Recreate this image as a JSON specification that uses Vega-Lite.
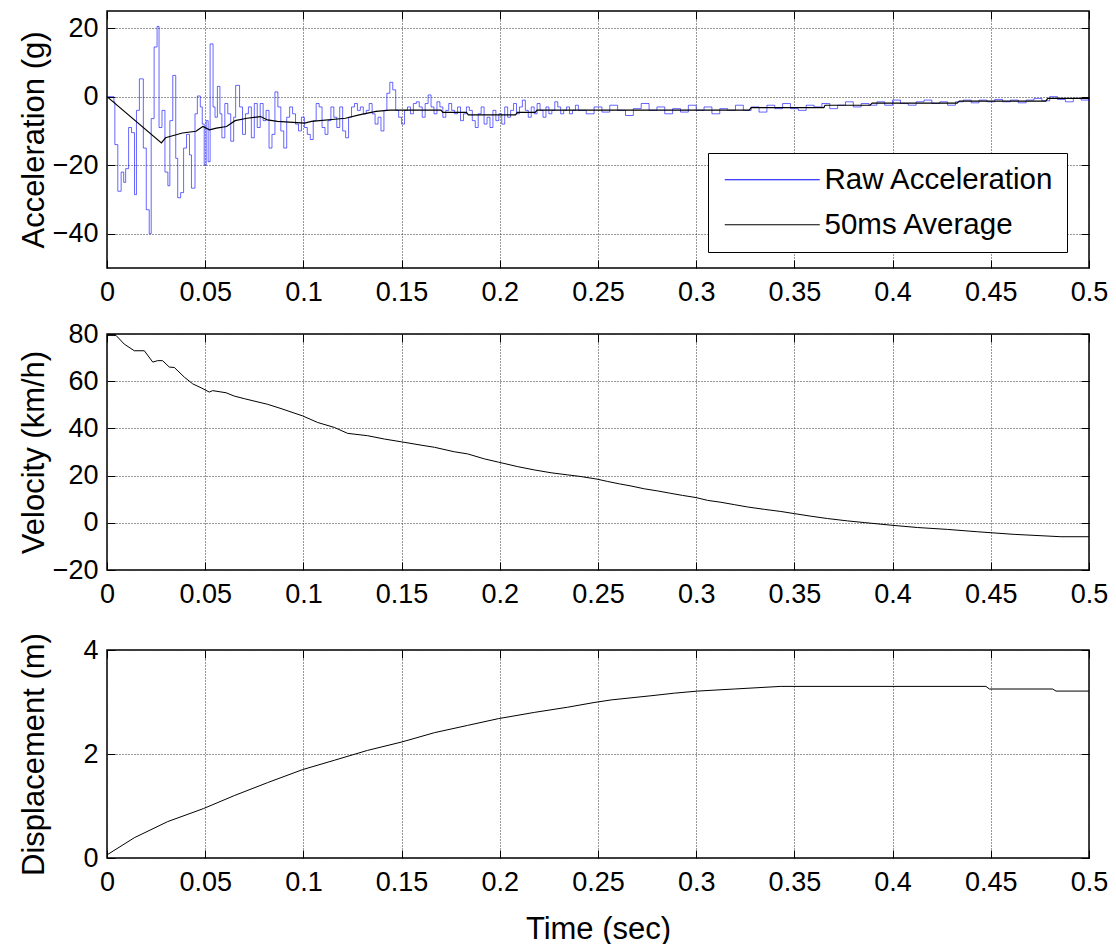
{
  "$schema": "https://vega.github.io/schema/vega-lite/v6.json",
  "padding": {"left": 17, "top": 9, "right": 5, "bottom": 2},
  "background": "white",
  "config": {
    "font": "Liberation Sans",
    "view": {"stroke": "black", "strokeWidth": 1.5},
    "axis": {
      "labelFont": "Liberation Sans", "labelFontSize": 27, "labelColor": "black",
      "titleFont": "Liberation Sans", "titleFontSize": 31, "titleFontWeight": "normal", "titleColor": "black",
      "domain": false, "tickColor": "black", "tickSize": -8, "tickWidth": 1,
      "gridColor": "#333333", "gridDash": [1, 2], "gridWidth": 1, "gridOpacity": 1,
      "labelFlush": false, "labelOverlap": false
    },
    "axisX": {"labelPadding": 19},
    "axisY": {"labelPadding": 17, "titleX": -73, "titleBaseline": "middle"}
  },
  "datasets": {
    "raw": [
      {"t":0,"g":0},{"t":0.003,"g":0},{"t":0.0035,"g":-1.5},{"t":0.004,"g":-14},{"t":0.0055,"g":-27.6},{"t":0.0072,"g":-22},{"t":0.0085,"g":-25},{"t":0.0095,"g":-21},{"t":0.011,"g":-9},{"t":0.0125,"g":-10.5},{"t":0.014,"g":-28.6},{"t":0.015,"g":-4},{"t":0.0165,"g":5.2},{"t":0.0185,"g":-15},{"t":0.02,"g":-33},{"t":0.0215,"g":-40},{"t":0.0225,"g":-6.4},{"t":0.024,"g":14.5},{"t":0.0255,"g":20.5},{"t":0.0265,"g":-9},{"t":0.028,"g":-4},{"t":0.0295,"g":-22},{"t":0.031,"g":-26},{"t":0.032,"g":-7},{"t":0.0335,"g":6.2},{"t":0.035,"g":-18},{"t":0.036,"g":-29.5},{"t":0.0375,"g":-28},{"t":0.039,"g":-15},{"t":0.0405,"g":-11},{"t":0.042,"g":-17},{"t":0.043,"g":-26.7},{"t":0.0448,"g":-5},{"t":0.046,"g":0.2},{"t":0.0475,"g":-3},{"t":0.0485,"g":-8},{"t":0.0495,"g":-20},{"t":0.0505,"g":-7},{"t":0.0515,"g":-19},{"t":0.0525,"g":15.4},{"t":0.054,"g":-3},{"t":0.055,"g":-6},{"t":0.0562,"g":3},{"t":0.0575,"g":-5},{"t":0.0585,"g":-12},{"t":0.06,"g":-2},{"t":0.0615,"g":-5},{"t":0.063,"g":-13},{"t":0.0645,"g":-6},{"t":0.0655,"g":3.3},{"t":0.0675,"g":-3},{"t":0.069,"g":-11},{"t":0.0705,"g":-5},{"t":0.072,"g":-3},{"t":0.0735,"g":-12},{"t":0.075,"g":-2},{"t":0.0765,"g":-9},{"t":0.078,"g":-2},{"t":0.0795,"g":-7},{"t":0.081,"g":-4},{"t":0.0825,"g":-15},{"t":0.084,"g":-11},{"t":0.0855,"g":1.4},{"t":0.087,"g":-3},{"t":0.0885,"g":-10},{"t":0.09,"g":-15},{"t":0.0915,"g":-6},{"t":0.093,"g":-3},{"t":0.0945,"g":-5},{"t":0.096,"g":-8},{"t":0.0975,"g":-10},{"t":0.099,"g":-6},{"t":0.1005,"g":-9},{"t":0.102,"g":-11},{"t":0.1035,"g":-12.5},{"t":0.105,"g":-7},{"t":0.1065,"g":-2},{"t":0.108,"g":-3},{"t":0.1095,"g":-9},{"t":0.111,"g":-11},{"t":0.1125,"g":-7},{"t":0.114,"g":-3},{"t":0.1155,"g":-6},{"t":0.117,"g":-9},{"t":0.1185,"g":-3},{"t":0.12,"g":-10},{"t":0.1215,"g":-12},{"t":0.123,"g":-6},{"t":0.1245,"g":-3},{"t":0.126,"g":-2},{"t":0.1275,"g":-4},{"t":0.129,"g":-3},{"t":0.1305,"g":-5},{"t":0.132,"g":-4},{"t":0.1335,"g":-2},{"t":0.135,"g":-5},{"t":0.1365,"g":-8},{"t":0.138,"g":-6},{"t":0.1395,"g":-10},{"t":0.141,"g":-4},{"t":0.1425,"g":1},{"t":0.144,"g":4.2},{"t":0.1455,"g":2},{"t":0.147,"g":-4},{"t":0.1485,"g":-6},{"t":0.15,"g":-8},{"t":0.1515,"g":-4},{"t":0.153,"g":-3},{"t":0.1545,"g":-5},{"t":0.156,"g":-2},{"t":0.1575,"g":-1.5},{"t":0.159,"g":-3},{"t":0.1605,"g":-6},{"t":0.162,"g":-2},{"t":0.1635,"g":0.5},{"t":0.165,"g":-3},{"t":0.1665,"g":-5},{"t":0.168,"g":-1.5},{"t":0.1695,"g":-3},{"t":0.171,"g":-6},{"t":0.1725,"g":-4},{"t":0.174,"g":-2},{"t":0.1755,"g":-4},{"t":0.177,"g":-5},{"t":0.1785,"g":-3},{"t":0.18,"g":-7},{"t":0.1815,"g":-5},{"t":0.183,"g":-3},{"t":0.1845,"g":-4},{"t":0.186,"g":-7},{"t":0.1875,"g":-9},{"t":0.189,"g":-5},{"t":0.1905,"g":-3},{"t":0.192,"g":-8},{"t":0.1935,"g":-6},{"t":0.195,"g":-9},{"t":0.1965,"g":-4},{"t":0.198,"g":-7},{"t":0.1995,"g":-5},{"t":0.201,"g":-8},{"t":0.2025,"g":-3},{"t":0.204,"g":-6},{"t":0.2055,"g":-4},{"t":0.207,"g":-2},{"t":0.2085,"g":-5},{"t":0.21,"g":-3},{"t":0.2115,"g":-1},{"t":0.213,"g":-4},{"t":0.2145,"g":-6},{"t":0.216,"g":-3},{"t":0.2175,"g":-5},{"t":0.219,"g":-2},{"t":0.2205,"g":-4},{"t":0.222,"g":-6},{"t":0.2235,"g":-3},{"t":0.225,"g":-5},{"t":0.2265,"g":-4},{"t":0.228,"g":-1.5},{"t":0.2295,"g":-3},{"t":0.231,"g":-5},{"t":0.2325,"g":-4},{"t":0.234,"g":-3},{"t":0.2355,"g":-5},{"t":0.237,"g":-4},{"t":0.2385,"g":-2.5},{"t":0.24,"g":-4},
      {"t":0.244,"g":-5},{"t":0.248,"g":-3},{"t":0.252,"g":-4.5},{"t":0.256,"g":-2.5},{"t":0.26,"g":-4},{"t":0.264,"g":-5.5},{"t":0.268,"g":-3.5},{"t":0.272,"g":-2},{"t":0.276,"g":-4},{"t":0.28,"g":-3},{"t":0.284,"g":-5},{"t":0.288,"g":-3.5},{"t":0.292,"g":-4.5},{"t":0.296,"g":-2.5},{"t":0.3,"g":-4},{"t":0.304,"g":-3},{"t":0.308,"g":-5},{"t":0.312,"g":-3.5},{"t":0.316,"g":-4},{"t":0.32,"g":-2.5},{"t":0.324,"g":-4},{"t":0.328,"g":-3},{"t":0.332,"g":-4.5},{"t":0.336,"g":-2.5},{"t":0.34,"g":-3.5},{"t":0.344,"g":-2},{"t":0.348,"g":-3.5},{"t":0.352,"g":-4},{"t":0.356,"g":-2.5},{"t":0.36,"g":-3},{"t":0.364,"g":-2},{"t":0.368,"g":-3.5},{"t":0.372,"g":-2.5},{"t":0.376,"g":-1.5},{"t":0.38,"g":-3},{"t":0.384,"g":-2},{"t":0.388,"g":-2.5},{"t":0.392,"g":-1.5},{"t":0.396,"g":-2.5},{"t":0.4,"g":-1},{"t":0.404,"g":-2},{"t":0.408,"g":-2.5},{"t":0.412,"g":-1.5},{"t":0.416,"g":-1},{"t":0.42,"g":-2},{"t":0.424,"g":-1.5},{"t":0.428,"g":-2.5},{"t":0.432,"g":-1.5},{"t":0.436,"g":-1},{"t":0.44,"g":-1.8},{"t":0.444,"g":-1},{"t":0.448,"g":-1.5},{"t":0.452,"g":-0.8},{"t":0.456,"g":-1.5},{"t":0.46,"g":-1},{"t":0.464,"g":-1.8},{"t":0.468,"g":-1},{"t":0.472,"g":-0.5},{"t":0.476,"g":-1.2},{"t":0.48,"g":0},{"t":0.484,"g":-0.8},{"t":0.488,"g":-1.5},{"t":0.492,"g":-0.5},{"t":0.496,"g":-1},{"t":0.5,"g":-0.5}
    ],
    "avg": [
      {"t":0,"g":0},{"t":0.0277,"g":-13.5},{"t":0.0298,"g":-12},{"t":0.0384,"g":-10.6},{"t":0.0453,"g":-10.1},{"t":0.0488,"g":-8.7},{"t":0.0522,"g":-9.7},{"t":0.0557,"g":-9.2},{"t":0.0609,"g":-8.7},{"t":0.0652,"g":-7},{"t":0.0713,"g":-6.3},{"t":0.0782,"g":-5.8},{"t":0.0817,"g":-6.8},{"t":0.0868,"g":-7.2},{"t":0.1007,"g":-7.7},{"t":0.1041,"g":-7.2},{"t":0.1214,"g":-6.3},{"t":0.1284,"g":-5.3},{"t":0.137,"g":-4.3},{"t":0.144,"g":-3.9},{"t":0.17,"g":-3.9},{"t":0.171,"g":-4.6},{"t":0.183,"g":-4.6},{"t":0.184,"g":-5.3},{"t":0.208,"g":-5.3},{"t":0.209,"g":-4.6},{"t":0.218,"g":-4.6},{"t":0.219,"g":-3.9},{"t":0.327,"g":-3.9},{"t":0.328,"g":-3.2},{"t":0.365,"g":-3.2},{"t":0.3656,"g":-2.5},{"t":0.3885,"g":-2.5},{"t":0.3896,"g":-1.9},{"t":0.4328,"g":-1.9},{"t":0.434,"g":-1.3},{"t":0.478,"g":-1.3},{"t":0.479,"g":-0.5},{"t":0.5,"g":-0.5}
    ],
    "vel": [
      {"t":0,"v":79.4},{"t":0.0046,"v":79.4},{"t":0.0088,"v":75.7},{"t":0.0139,"v":72.9},{"t":0.019,"v":72.9},{"t":0.0233,"v":68.1},{"t":0.0258,"v":68.7},{"t":0.0283,"v":68.7},{"t":0.0317,"v":66},{"t":0.0343,"v":65.8},{"t":0.0394,"v":61.7},{"t":0.0436,"v":58.9},{"t":0.0479,"v":57.2},{"t":0.0521,"v":55.4},{"t":0.0538,"v":56},{"t":0.0606,"v":55.1},{"t":0.0648,"v":53.7},{"t":0.0699,"v":52.6},{"t":0.0818,"v":50.2},{"t":0.0886,"v":48.4},{"t":0.0996,"v":45.3},{"t":0.1073,"v":42.5},{"t":0.1158,"v":40.4},{"t":0.1225,"v":37.9},{"t":0.1327,"v":36.9},{"t":0.1412,"v":35.5},{"t":0.15,"v":34.3},{"t":0.1599,"v":32.9},{"t":0.1667,"v":32},{"t":0.1768,"v":30.1},{"t":0.1836,"v":29.2},{"t":0.1921,"v":27.1},{"t":0.1993,"v":25.7},{"t":0.2091,"v":23.8},{"t":0.2176,"v":22.4},{"t":0.2261,"v":21.2},{"t":0.2346,"v":20.3},{"t":0.2413,"v":19.6},{"t":0.2495,"v":18.5},{"t":0.255,"v":17.5},{"t":0.2609,"v":16.5},{"t":0.2668,"v":15.6},{"t":0.2736,"v":14.4},{"t":0.2804,"v":13.5},{"t":0.2863,"v":12.6},{"t":0.2931,"v":11.6},{"t":0.2999,"v":10.7},{"t":0.3058,"v":9.5},{"t":0.3126,"v":8.7},{"t":0.3194,"v":7.7},{"t":0.3262,"v":6.7},{"t":0.3347,"v":5.7},{"t":0.3431,"v":4.8},{"t":0.3499,"v":3.9},{"t":0.3584,"v":2.8},{"t":0.3669,"v":1.8},{"t":0.3771,"v":0.8},{"t":0.3856,"v":0.1},{"t":0.3991,"v":-1},{"t":0.4127,"v":-2},{"t":0.428,"v":-2.8},{"t":0.4433,"v":-3.8},{"t":0.4619,"v":-4.9},{"t":0.4857,"v":-5.9},{"t":0.5,"v":-5.9}
    ],
    "disp": [
      {"t":0,"d":0.06},{"t":0.0139,"d":0.39},{"t":0.0309,"d":0.7},{"t":0.0491,"d":0.95},{"t":0.0648,"d":1.2},{"t":0.0818,"d":1.45},{"t":0.0996,"d":1.7},{"t":0.1158,"d":1.88},{"t":0.1327,"d":2.07},{"t":0.15,"d":2.23},{"t":0.1667,"d":2.41},{"t":0.1836,"d":2.55},{"t":0.1993,"d":2.68},{"t":0.2176,"d":2.8},{"t":0.2346,"d":2.9},{"t":0.248,"d":2.99},{"t":0.2567,"d":3.04},{"t":0.2668,"d":3.08},{"t":0.277,"d":3.12},{"t":0.2889,"d":3.17},{"t":0.3007,"d":3.21},{"t":0.3194,"d":3.25},{"t":0.3431,"d":3.3},{"t":0.4475,"d":3.3},{"t":0.4493,"d":3.25},{"t":0.4815,"d":3.25},{"t":0.4832,"d":3.21},{"t":0.5,"d":3.21}
    ]
  },
  "vconcat": [
    {
      "spacing": 13,
      "vconcat": [
        {
          "width": 982, "height": 257,
          "layer": [
            {
              "data": {"name": "raw"},
              "mark": {"type": "line", "interpolate": "step-after", "strokeWidth": 0.8, "opacity": 0.75},
              "encoding": {
                "x": {"field": "t", "type": "quantitative", "scale": {"domain": [0, 0.5], "nice": false, "zero": false},
                      "axis": {"orient": "bottom", "values": [0,0.05,0.1,0.15,0.2,0.25,0.3,0.35,0.4,0.45,0.5], "format": "~g", "title": null}},
                "y": {"field": "g", "type": "quantitative", "scale": {"domain": [-50, 25], "nice": false, "zero": false},
                      "axis": {"orient": "left", "values": [-40,-20,0,20], "title": "Acceleration (g)"}},
                "color": {"datum": "Raw Acceleration", "type": "nominal",
                  "scale": {"domain": ["Raw Acceleration", "50ms Average"], "range": ["#0000ff", "#000000"]},
                  "legend": {
                    "orient": "none", "legendX": 601, "legendY": 142, "title": null,
                    "padding": 12, "strokeColor": "black", "fillColor": "white", "cornerRadius": 0,
                    "labelFont": "Liberation Sans", "labelFontSize": 29.5, "labelColor": "black", "labelLimit": 500,
                    "symbolType": "M-1,0H8.5", "symbolSize": 400, "symbolStrokeWidth": 1, "symbolOpacity": 1,
                    "labelOffset": 75, "rowPadding": 14, "offset": 0
                  }
                }
              }
            },
            {
              "data": {"name": "avg"},
              "mark": {"type": "line", "strokeWidth": 1.2},
              "encoding": {
                "x": {"field": "t", "type": "quantitative",
                      "axis": {"orient": "top", "values": [0,0.05,0.1,0.15,0.2,0.25,0.3,0.35,0.4,0.45,0.5], "labels": false, "grid": false, "title": null}},
                "y": {"field": "g", "type": "quantitative",
                      "axis": {"orient": "right", "values": [-40,-20,0,20], "labels": false, "grid": false, "title": null}},
                "color": {"datum": "50ms Average", "type": "nominal"}
              }
            }
          ],
          "resolve": {"axis": {"x": "independent", "y": "independent"}}
        },
        {
          "width": 982, "height": 236,
          "data": {"name": "vel"},
          "layer": [
            {
              "mark": {"type": "line", "color": "black", "strokeWidth": 1},
              "encoding": {
                "x": {"field": "t", "type": "quantitative", "scale": {"domain": [0, 0.5], "nice": false, "zero": false},
                      "axis": {"orient": "bottom", "values": [0,0.05,0.1,0.15,0.2,0.25,0.3,0.35,0.4,0.45,0.5], "format": "~g", "title": null}},
                "y": {"field": "v", "type": "quantitative", "scale": {"domain": [-20, 80], "nice": false, "zero": false},
                      "axis": {"orient": "left", "values": [-20,0,20,40,60,80], "title": "Velocity (km/h)"}}
              }
            },
            {
              "mark": {"type": "line", "color": "black", "strokeWidth": 1, "opacity": 0},
              "encoding": {
                "x": {"field": "t", "type": "quantitative",
                      "axis": {"orient": "top", "values": [0,0.05,0.1,0.15,0.2,0.25,0.3,0.35,0.4,0.45,0.5], "labels": false, "grid": false, "title": null}},
                "y": {"field": "v", "type": "quantitative",
                      "axis": {"orient": "right", "values": [-20,0,20,40,60,80], "labels": false, "grid": false, "title": null}}
              }
            }
          ],
          "resolve": {"axis": {"x": "independent", "y": "independent"}}
        }
      ]
    },
    {
      "width": 982, "height": 208,
      "data": {"name": "disp"},
      "layer": [
        {
          "mark": {"type": "line", "color": "black", "strokeWidth": 1},
          "encoding": {
            "x": {"field": "t", "type": "quantitative", "scale": {"domain": [0, 0.5], "nice": false, "zero": false},
                  "axis": {"orient": "bottom", "values": [0,0.05,0.1,0.15,0.2,0.25,0.3,0.35,0.4,0.45,0.5], "format": "~g", "title": "Time (sec)", "titlePadding": 19}},
            "y": {"field": "d", "type": "quantitative", "scale": {"domain": [0, 4], "nice": false, "zero": false},
                  "axis": {"orient": "left", "values": [0,2,4], "title": "Displacement (m)"}}
          }
        },
        {
          "mark": {"type": "line", "color": "black", "strokeWidth": 1, "opacity": 0},
          "encoding": {
            "x": {"field": "t", "type": "quantitative",
                  "axis": {"orient": "top", "values": [0,0.05,0.1,0.15,0.2,0.25,0.3,0.35,0.4,0.45,0.5], "labels": false, "grid": false, "title": null}},
            "y": {"field": "d", "type": "quantitative",
                  "axis": {"orient": "right", "values": [0,2,4], "labels": false, "grid": false, "title": null}}
          }
        }
      ],
      "resolve": {"axis": {"x": "independent", "y": "independent"}}
    }
  ],
  "spacing": 23
}
